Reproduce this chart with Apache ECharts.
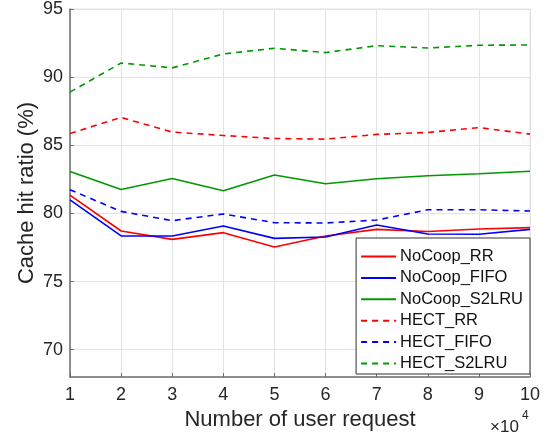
<!DOCTYPE html>
<html>
<head>
<meta charset="utf-8">
<script src="https://cdn.jsdelivr.net/npm/echarts@6/dist/echarts.min.js"></script>
<style>html,body{margin:0;padding:0;background:#fff}#c{width:553px;height:440px}</style>
</head>
<body>
<div id="c"></div>
<script>
var requests = [1, 2, 3, 4, 5, 6, 7, 8, 9, 10];
var yTicks = [70, 75, 80, 85, 90, 95];
var noCoopRR    = [81.35, 78.71, 78.10, 78.59, 77.54, 78.35, 78.83, 78.68, 78.86, 78.96];
var noCoopFIFO  = [81.00, 78.35, 78.35, 79.08, 78.17, 78.27, 79.15, 78.49, 78.47, 78.83];
var noCoopS2LRU = [83.08, 81.76, 82.57, 81.67, 82.82, 82.18, 82.55, 82.77, 82.91, 83.10];
var hectRR      = [85.87, 87.04, 85.97, 85.72, 85.50, 85.45, 85.80, 85.94, 86.30, 85.82];
var hectFIFO    = [81.74, 80.15, 79.47, 79.96, 79.32, 79.30, 79.52, 80.27, 80.27, 80.18];
var hectS2LRU   = [88.90, 91.04, 90.68, 91.70, 92.12, 91.80, 92.31, 92.14, 92.34, 92.36];

var RED = '#ff0000', BLUE = '#0000ff', GREEN = '#009900';
function pairs(v){ return requests.map(function(x,i){ return [x, v[i]]; }); }
function mk(name, vals, color, dashed){
  return {
    name: name, type: 'line', data: pairs(vals), symbol: 'none',
    lineStyle: { color: color, width: 1.6, type: dashed ? [6, 5] : 'solid' },
    itemStyle: { color: color }, animation: false
  };
}
var chart = echarts.init(document.getElementById('c'), null, {renderer: 'canvas'});
var F = 'Liberation Sans, Arial, Helvetica, sans-serif';
chart.setOption({
  backgroundColor: '#fff',
  animation: false,
  grid: { left: 70, right: 23, top: 8, bottom: 63, show: true, borderColor: '#e3e3e3', borderWidth: 1, containLabel: false },
  xAxis: {
    type: 'value', min: 1, max: 10, interval: 1,
    name: 'Number of user request', nameLocation: 'middle', nameGap: 32, nameMoveOverlap: false,
    nameTextStyle: { fontFamily: F, fontSize: 22, color: '#262626' },
    axisLine: { show: true, lineStyle: { color: '#6e6e6e', width: 1.5 } },
    axisTick: { show: true, inside: true, length: 4, lineStyle: { color: '#6e6e6e' } },
    axisLabel: { fontFamily: F, fontSize: 18, color: '#262626', margin: 9 },
    splitLine: { show: true, lineStyle: { color: '#e3e3e3', width: 1 } }
  },
  yAxis: {
    type: 'value', min: 68, max: 95,
    name: 'Cache hit ratio (%)', nameLocation: 'middle', nameGap: 32, nameMoveOverlap: false,
    nameTextStyle: { fontFamily: F, fontSize: 22, color: '#262626' },
    axisLine: { show: true, lineStyle: { color: '#6e6e6e', width: 1.5 } },
    axisTick: { show: true, inside: true, length: 4, customValues: yTicks, lineStyle: { color: '#6e6e6e' } },
    axisLabel: { fontFamily: F, fontSize: 18, color: '#262626', margin: 7, customValues: yTicks },
    splitLine: { show: true, lineStyle: { color: '#e3e3e3', width: 1 } }
  },
  legend: {
    orient: 'vertical', right: 23, top: 238,
    backgroundColor: '#fff', borderColor: '#333', borderWidth: 1,
    padding: [10, 7, 2, 4], itemWidth: 35, itemHeight: 14, itemGap: 4.4,
    itemStyle: { opacity: 0 },
    textStyle: { fontFamily: F, fontSize: 16.5, lineHeight: 14, color: '#111', padding: [0, 0, 0, -1] },
    data: ['NoCoop_RR', 'NoCoop_FIFO', 'NoCoop_S2LRU', 'HECT_RR', 'HECT_FIFO', 'HECT_S2LRU']
  },
  graphic: [
    { type: 'text', left: 490, top: 419, style: { text: '×10', fontSize: 17, fontFamily: 'Liberation Sans', fill: '#262626' } },
    { type: 'text', left: 522, top: 410, style: { text: '4', fontSize: 12, fontFamily: 'Liberation Sans', fill: '#262626' } }
  ],
  series: [
    mk('NoCoop_RR', noCoopRR, RED, false),
    mk('NoCoop_FIFO', noCoopFIFO, BLUE, false),
    mk('NoCoop_S2LRU', noCoopS2LRU, GREEN, false),
    mk('HECT_RR', hectRR, RED, true),
    mk('HECT_FIFO', hectFIFO, BLUE, true),
    mk('HECT_S2LRU', hectS2LRU, GREEN, true)
  ]
});
</script>
</body>
</html>
